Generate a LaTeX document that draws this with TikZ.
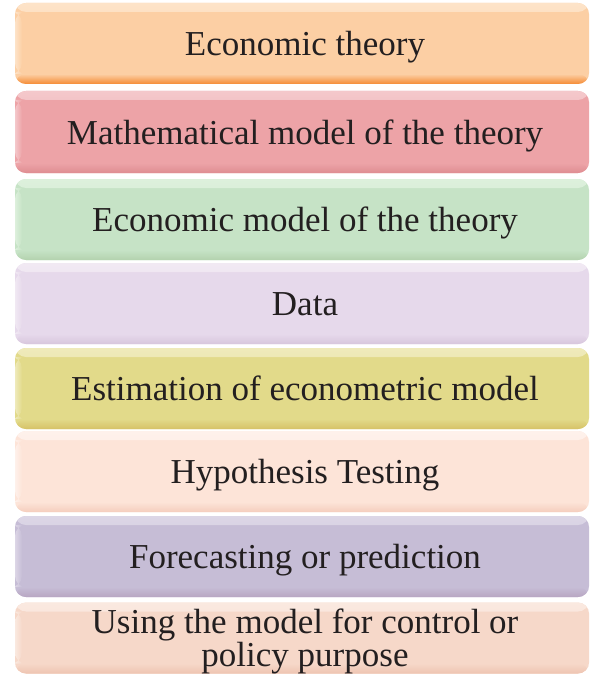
\documentclass[tikz,border=0pt]{standalone}
\usepackage{fontspec}
\setmainfont{Liberation Serif}
\definecolor{txt}{HTML}{231F20}
\definecolor{mA}{HTML}{FCCFA4}\definecolor{lA}{HTML}{FDE3C8}\definecolor{dA}{HTML}{F58B35}
\definecolor{mB}{HTML}{EDA3A7}\definecolor{lB}{HTML}{F4C8CB}\definecolor{dB}{HTML}{DE8D92}
\definecolor{mC}{HTML}{C6E3C6}\definecolor{lC}{HTML}{DDF0DC}\definecolor{dC}{HTML}{B3D2AE}
\definecolor{mD}{HTML}{E6D9EB}\definecolor{lD}{HTML}{F1E9F3}\definecolor{dD}{HTML}{D7C6DC}
\definecolor{mE}{HTML}{E2DA8A}\definecolor{lE}{HTML}{EFEABB}\definecolor{dE}{HTML}{D6C267}
\definecolor{mF}{HTML}{FDE4D8}\definecolor{lF}{HTML}{FEF1EB}\definecolor{dF}{HTML}{F4CDBD}
\definecolor{mG}{HTML}{C6BDD6}\definecolor{lG}{HTML}{DCD6E6}\definecolor{dG}{HTML}{B8A6C2}
\definecolor{mH}{HTML}{F6D8C9}\definecolor{lH}{HTML}{FAE9E0}\definecolor{dH}{HTML}{EEC4B1}
\begin{document}
\begin{tikzpicture}[x=1pt,y=-1pt,
  box/.style={rounded corners=11pt, minimum width=574pt, inner sep=0pt},
  lbl/.style={inner sep=0pt, font=\fontsize{35}{30}\selectfont, text=txt, align=center},
  one/.style={text height=24pt, text depth=0pt},
  stage/.style n args={3}{box, fill=#1,
    path picture={
      \shade[top color=#2, bottom color=#1]
        (path picture bounding box.north west) rectangle ([yshift=-9pt]path picture bounding box.north east);
      \shade[top color=#1, bottom color=#3]
        ([yshift=10pt]path picture bounding box.south west) rectangle (path picture bounding box.south east);
      \shade[left color=#2, right color=#1]
        ([yshift=-9pt]path picture bounding box.north west) rectangle ([xshift=7pt,yshift=10pt]path picture bounding box.south west);
    }}]
\useasboundingbox (0,0) rectangle (589,674);
\node[stage={mA}{lA}{dA}, minimum height=81pt] (s1) at (302,43.5) {};
\node[stage={mB}{lB}{dB}, minimum height=82pt] (s2) at (302,132) {};
\node[stage={mC}{lC}{dC}, minimum height=81pt] (s3) at (302,219.5) {};
\node[stage={mD}{lD}{dD}, minimum height=81pt] (s4) at (302,303.5) {};
\node[stage={mE}{lE}{dE}, minimum height=81pt] (s5) at (302,388.5) {};
\node[stage={mF}{lF}{dF}, minimum height=81pt] (s6) at (302,471.5) {};
\node[stage={mG}{lG}{dG}, minimum height=81pt] (s7) at (302,556.5) {};
\node[stage={mH}{lH}{dH}, minimum height=71pt] (s8) at (302,638) {};
\node[lbl, one] (t1) at (305,44) {Economic theory};
\node[lbl, one] (t2) at (305,132) {Mathematical model of the theory};
\node[lbl, one] (t3) at (305,219.5) {Economic model of the theory};
\node[lbl, one] (t4) at (305,303.5) {Data};
\node[lbl, one] (t5) at (305,388.5) {Estimation of econometric model};
\node[lbl, one] (t6) at (305,471.5) {Hypothesis Testing};
\node[lbl, one] (t7) at (305,556.5) {Forecasting or prediction};
\node[lbl] (t8) at (305,641.5) {Using the model for control or\\policy purpose};
\end{tikzpicture}
\end{document}
